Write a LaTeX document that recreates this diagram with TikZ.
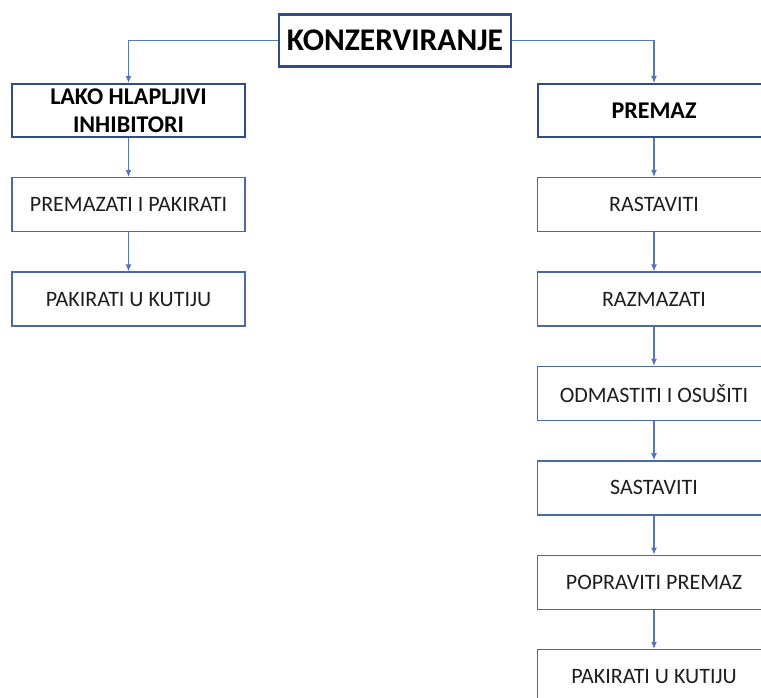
\documentclass[tikz,border=0pt]{standalone}
\usepackage{fontspec}
\setmainfont{Carlito}
\usepackage{tikz}
\usetikzlibrary{arrows.meta,positioning}
\definecolor{boxblue}{HTML}{2F4C8A}
\definecolor{lineblue}{HTML}{4A69A8}
\definecolor{arrowblue}{HTML}{5676B4}
\definecolor{textgray}{HTML}{1E1E1E}

\begin{document}
\begin{tikzpicture}[
		x=1pt, y=1pt,
		node distance=39pt,
		>={Latex[length=7pt,width=6pt]},
		headbox/.style={
			rectangle,
			draw=boxblue,
			line width=2.6pt,
			text centered,
			minimum width=232pt,
			minimum height=52pt,
			font=\bfseries\fontsize{31.5}{36}\selectfont,
			fill=white
		},
		mainbox/.style={
			rectangle,
			draw=boxblue,
			line width=2pt,
			align=center,
			minimum width=233pt,
			minimum height=53pt,
			font=\bfseries\fontsize{24}{28}\selectfont,
			fill=white
		},
		stepbox/.style={
			rectangle,
			draw=lineblue,
			line width=1.4pt,
			text=textgray,
			text centered,
			minimum width=233pt,
			minimum height=54pt,
			font=\fontsize{22}{26}\selectfont,
			fill=white
		},
		conn/.style={
			draw=arrowblue,
			line width=1.1pt,
			->
		}
		]
		\useasboundingbox (0,0) rectangle (761,-698);
		\clip (0,0) rectangle (761,-698);
		
		% top of the tree
		\node [headbox] (konz) at (395,-40.5) {KONZERVIRANJE};
		
		% the two branches
		\node [mainbox] (lako) at (128.5,-110.5) {LAKO HLAPLJIVI\\INHIBITORI};
		\node [mainbox] (premaz) at (654,-110.5) {PREMAZ};
		
		% left column
		\node [stepbox, below=of lako] (premazati) {PREMAZATI I PAKIRATI};
		\node [stepbox, below=of premazati] (kutijaL) {PAKIRATI U KUTIJU};
		
		% right column
		\node [stepbox, below=of premaz] (rastaviti) {RASTAVITI};
		\node [stepbox, below=of rastaviti] (razmazati) {RAZMAZATI};
		\node [stepbox, below=of razmazati] (odmastiti) {ODMASTITI I OSUŠITI};
		\node [stepbox, below=of odmastiti] (sastaviti) {SASTAVITI};
		\node [stepbox, below=of sastaviti] (popraviti) {POPRAVITI PREMAZ};
		\node [stepbox, below=of popraviti] (kutijaR) {PAKIRATI U KUTIJU};
		
		% connectors
		\draw [conn] (konz.west) -| (lako.north);
		\draw [conn] (konz.east) -| (premaz.north);
		\draw [conn] (lako) -- (premazati);
		\draw [conn] (premazati) -- (kutijaL);
		\draw [conn] (premaz) -- (rastaviti);
		\draw [conn] (rastaviti) -- (razmazati);
		\draw [conn] (razmazati) -- (odmastiti);
		\draw [conn] (odmastiti) -- (sastaviti);
		\draw [conn] (sastaviti) -- (popraviti);
		\draw [conn] (popraviti) -- (kutijaR);
\end{tikzpicture}
\end{document}
